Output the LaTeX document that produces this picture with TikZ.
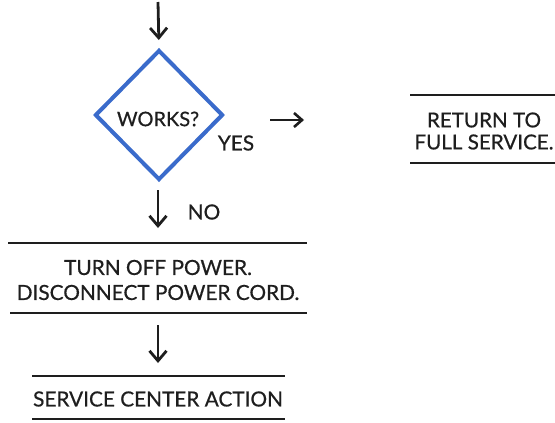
\documentclass[tikz,border=0pt]{standalone}
\usepackage{fontspec}
\setmainfont{Lato}[FakeBold=0.6]
\usetikzlibrary{shapes.geometric,arrows.meta}
\definecolor{ink}{HTML}{1E1E1E}
\definecolor{dblue}{HTML}{3A6BCB}
\begin{document}
\begin{tikzpicture}[x=1pt,y=-1pt,
  txt/.style={font=\fontsize{20.8}{25}\selectfont, text=ink, align=center, inner sep=0pt},
  rule/.style={draw=ink, line width=1.6pt},
  flow/.style={draw=ink, line width=2.8pt, -{Straight Barb[length=10pt,width=17pt,line width=2.8pt]}},
  hflow/.style={draw=ink, line width=2.6pt, -{Straight Barb[length=8pt,width=14pt,line width=2.6pt]}},
  decision/.style={diamond, draw=dblue, line width=4pt, minimum width=128pt, minimum height=130pt, inner sep=0pt}]
\useasboundingbox (0,0) rectangle (555,423);
\coordinate (s0) at (158,2);
\node[decision] (dia) at (159,115) {};
\node[txt, font=\fontsize{20}{24}\selectfont] (works) at (158,119) {WORKS?};
\node[txt] (yes) at (236,143) {YES};
\draw[flow, shorten >=8pt] (s0) -- (dia.north);
\coordinate (ra) at (270,120);
\coordinate (rb) at (304,120);
\draw[hflow] (ra) -- (rb);
% return box
\coordinate (r1a) at (410,95); \coordinate (r1b) at (555,95);
\coordinate (r2a) at (410,163); \coordinate (r2b) at (555,163);
\draw[rule] (r1a) -- (r1b);
\draw[rule] (r2a) -- (r2b);
\node[txt, font=\fontsize{20.6}{22}\selectfont] (ret) at (484,131) {RETURN TO\\FULL SERVICE.};
% no branch
\coordinate (d1) at (158,190);
\coordinate (d2) at (158,228);
\draw[flow] (d1) -- (d2);
\node[txt] (no) at (204,212) {NO};
% turn off box
\coordinate (t1a) at (8,243); \coordinate (t1b) at (307,243);
\coordinate (t2a) at (10,313); \coordinate (t2b) at (307,313);
\draw[rule] (t1a) -- (t1b);
\draw[rule] (t2a) -- (t2b);
\node[txt] (turn) at (158,280) {TURN OFF POWER.\\DISCONNECT POWER CORD.};
\coordinate (e1) at (158,325);
\coordinate (e2) at (158,363);
\draw[flow] (e1) -- (e2);
% service box
\coordinate (s1a) at (32,376); \coordinate (s1b) at (285,376);
\coordinate (s2a) at (32,419); \coordinate (s2b) at (285,419);
\draw[rule] (s1a) -- (s1b);
\draw[rule] (s2a) -- (s2b);
\node[txt] (svc) at (158,399) {SERVICE CENTER ACTION};
\end{tikzpicture}
\end{document}
